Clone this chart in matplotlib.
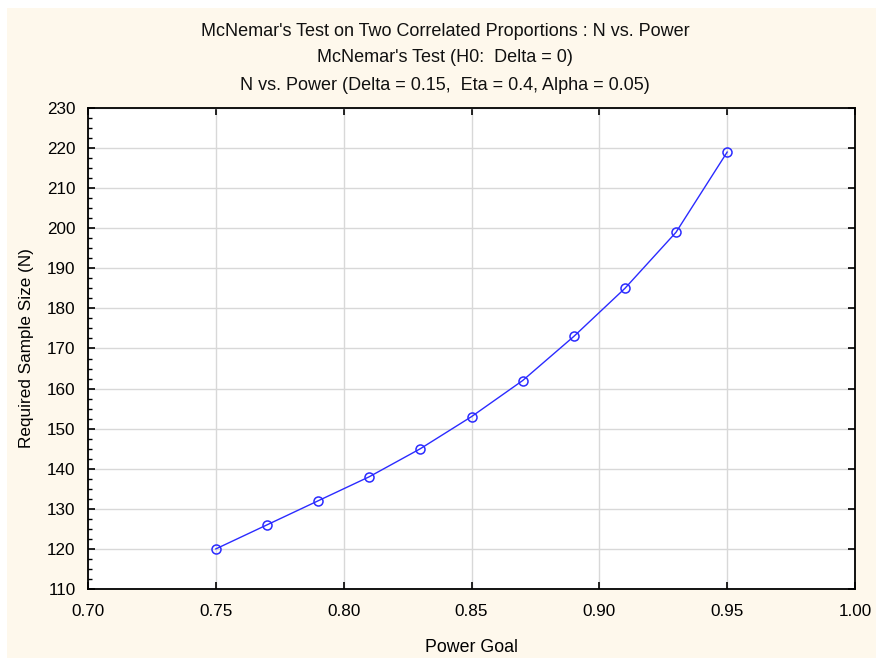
import matplotlib
matplotlib.use("Agg")
import matplotlib.pyplot as plt
from matplotlib.patches import Rectangle
from matplotlib.ticker import MultipleLocator

power = [0.75, 0.77, 0.79, 0.81, 0.83, 0.85, 0.87, 0.89, 0.91, 0.93, 0.95]
sample_n = [120, 126, 132, 138, 145, 153, 162, 173, 185, 199, 219]
titles = ["McNemar's Test on Two Correlated Proportions : N vs. Power",
          "McNemar's Test (H0:  Delta = 0)",
          "N vs. Power (Delta = 0.15,  Eta = 0.4, Alpha = 0.05)"]

plt.rcParams['font.family'] = ['Liberation Sans', 'DejaVu Sans']
W, H = 876, 658
fig = plt.figure(figsize=(W/100, H/100), dpi=100)
fig.patch.set_facecolor('white')
fig.patches.append(Rectangle((7/W, 0), 1 - 7/W, 1 - 8/H, transform=fig.transFigure,
                             facecolor='#FEF8EC', edgecolor='none', zorder=-10))

L, R, T, B = 88, 855, 108, 589
ax = fig.add_axes([L/W, 1 - B/H, (R-L)/W, (B-T)/H])
ax.set_facecolor('white')
ax.plot(power, sample_n, color='#2B2BFF', lw=1.0, marker='o', ms=6.5,
        mfc='none', mec='#2B2BFF', mew=1.1, zorder=3)
ax.set_xlim(0.70, 1.00)
ax.set_ylim(110, 230)
ax.xaxis.set_major_locator(MultipleLocator(0.05))
ax.yaxis.set_major_locator(MultipleLocator(10))
ax.yaxis.set_minor_locator(MultipleLocator(2.5))
ax.set_xticklabels([f"{v:.2f}" for v in ax.get_xticks()])
ax.grid(True, which='major', color='#D8D8D8', lw=1.0)
ax.set_axisbelow(True)
for s in ax.spines.values():
    s.set_linewidth(1.3)
    s.set_color('black')
ax.tick_params(axis='both', which='major', direction='in', length=5, width=1.2,
               labelsize=12.3, top=True, right=True, colors='black')
ax.tick_params(axis='x', which='major', pad=11)
ax.tick_params(axis='y', which='major', pad=9)
ax.tick_params(axis='y', which='minor', direction='in', length=3, width=1.0, left=True, right=False)
ax.tick_params(axis='x', which='minor', bottom=False, top=False)
ax.set_xlabel("Power Goal", fontsize=12.8, labelpad=14)
ax.set_ylabel("Required Sample Size (N)", fontsize=12.3, labelpad=9)

ys = [32, 58, 86]
for t, y in zip(titles, ys):
    fig.text(445/W, 1 - y/H, t, ha='center', va='center', fontsize=13, color='#111111')

fig.savefig('out.png', dpi=100)
